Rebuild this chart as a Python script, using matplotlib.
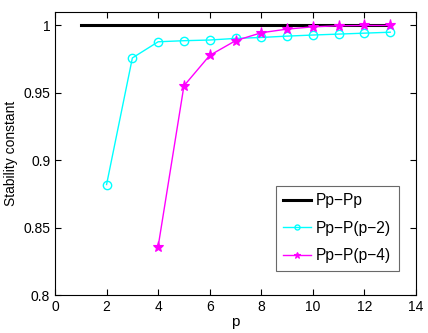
import numpy as np
import matplotlib
matplotlib.use('Agg')
import matplotlib.pyplot as plt

plt.rcParams['font.family'] = ['Liberation Sans', 'DejaVu Sans']

# data
p_pp = [1, 13]
pp_pp = [1.0, 1.0]

p2 = [2, 3, 4, 5, 6, 7, 8, 9, 10, 11, 12, 13]
pp_p2 = [0.882, 0.9759, 0.9879, 0.9887, 0.9892, 0.9904, 0.9911, 0.9921, 0.9929, 0.9936, 0.9943, 0.9950]

p4 = [4, 5, 6, 7, 8, 9, 10, 11, 12, 13]
pp_p4 = [0.836, 0.9552, 0.9778, 0.9887, 0.9946, 0.9973, 0.9990, 0.9998, 1.0, 1.0]

fig = plt.figure(figsize=(4.28, 3.33), dpi=100)
ax = fig.add_axes([0.1285, 0.114, 0.8435, 0.85])

ax.plot(p_pp, pp_pp, color='black', lw=2.2, label='Pp\u2212Pp')
ax.plot(p2, pp_p2, color='cyan', lw=1, marker='o', ms=6, mfc='none', mew=1, label='Pp\u2212P(p\u22122)')
ax.plot(p4, pp_p4, color='magenta', lw=1, marker='*', ms=8, mew=0.8, label='Pp\u2212P(p\u22124)')

ax.set_xlim(0, 14)
ax.set_ylim(0.8, 1.01)
ax.set_xticks(range(0, 15, 2))
ax.set_yticks([0.8, 0.85, 0.9, 0.95, 1.0])
ax.set_yticklabels(['0.8', '0.85', '0.9', '0.95', '1'])
ax.tick_params(direction='in', top=True, right=True, labelsize=10, length=4)
ax.set_xlabel('p', fontsize=11, labelpad=1)
ax.set_ylabel('Stability constant', fontsize=10, labelpad=4)

leg = ax.legend(loc='lower right', bbox_to_anchor=(0.953, 0.085), fontsize=11.2,
                fancybox=False, edgecolor='#444444', handlelength=1.75,
                borderpad=0.5, labelspacing=0.8, handletextpad=0.35,
                borderaxespad=0, markerscale=0.6)
leg.get_frame().set_linewidth(0.8)

fig.savefig('out.png', dpi=100)
